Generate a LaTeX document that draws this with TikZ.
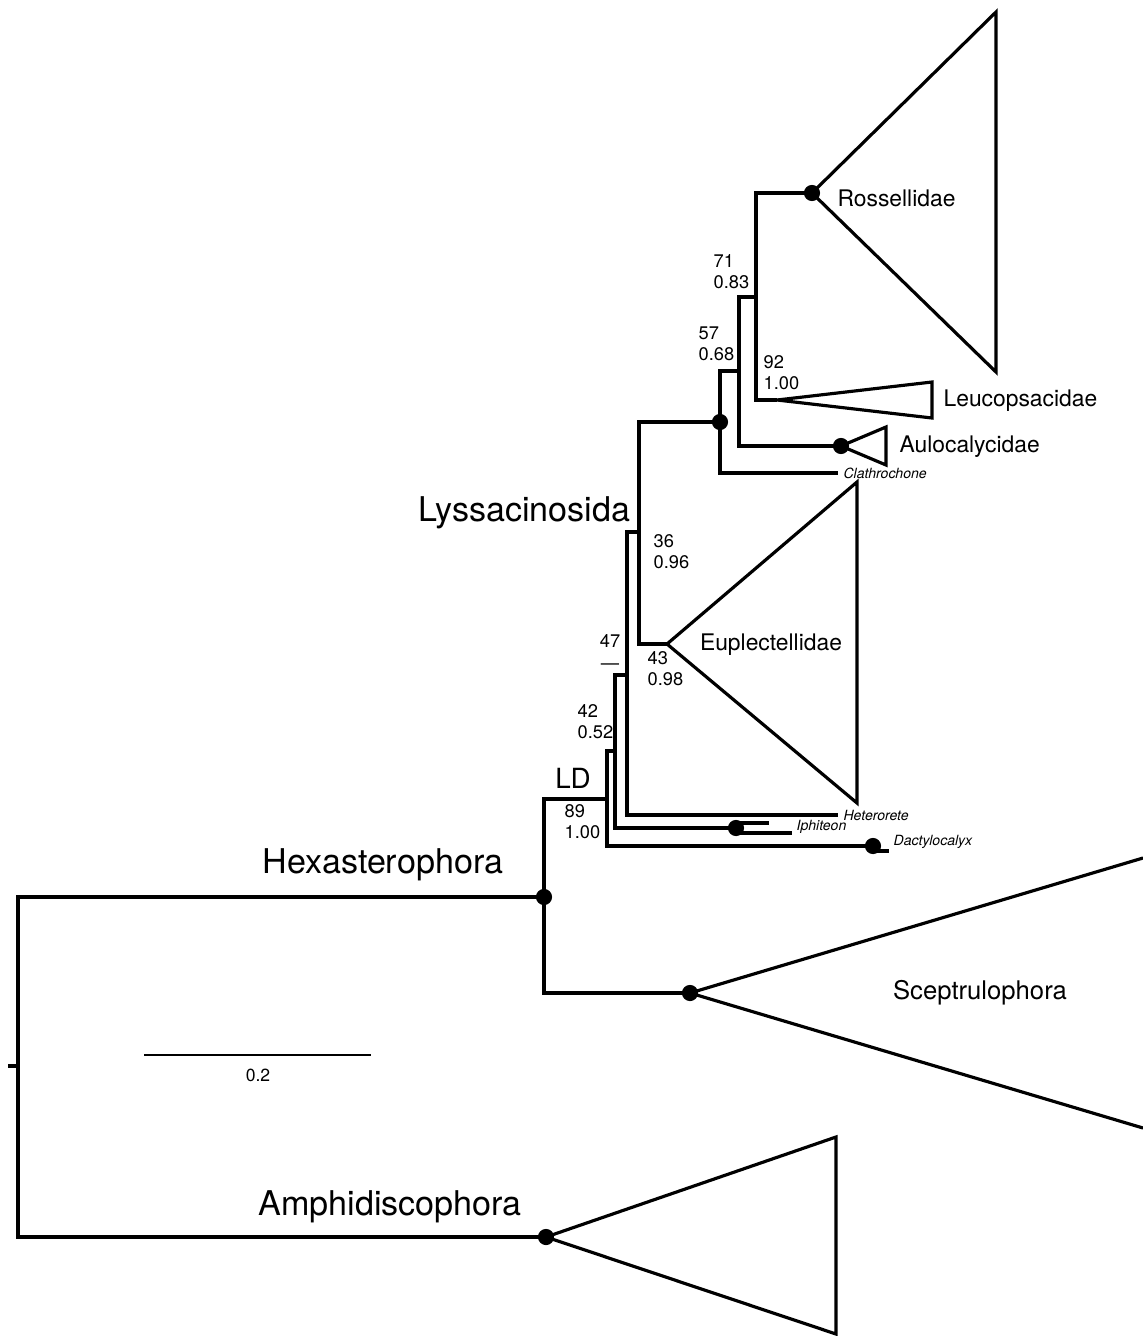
\documentclass[tikz,border=0pt]{standalone}
\usepackage{fontspec}
\setmainfont{TeX Gyre Heros}
\begin{document}
\begin{tikzpicture}[x=0.01cm,y=-0.01cm,line width=0.9pt]
		\tikzstyle{dot}=[circle,fill=black,inner sep=0pt,minimum size=4.6pt]
		\tikzstyle{clade}=[font=\fontsize{6.5}{7.5}\selectfont,inner sep=0pt]
		\tikzstyle{group}=[font=\fontsize{9.7}{11}\selectfont,inner sep=0pt]
		\tikzstyle{taxon}=[font=\fontsize{4}{5}\selectfont\itshape,anchor=west,inner sep=0pt]
		\tikzstyle{support}=[font=\fontsize{5.2}{6}\selectfont,align=left,anchor=west,inner sep=0pt]
		\useasboundingbox (0,0) rectangle (1143,1336);
		% internal nodes
		\coordinate (g_root) at (18,1066);
		\coordinate (g_stem) at (8,1066);
		\node[dot] (g_hexa) at (544,897) {};
		\node[dot] (g_amph) at (546,1237) {};
		\node[dot] (g_scep) at (690,993) {};
		\coordinate (g_ld) at (607,799);
		\coordinate (g_42) at (615,751);
		\coordinate (g_47) at (627,675);
		\coordinate (g_36) at (639,532);
		\node[dot] (g_57) at (720,422) {};
		\coordinate (g_71) at (739,371);
		\coordinate (g_92) at (756,297);
		% tips
		\node[dot] (g_ross) at (812,193) {};
		\coordinate (g_leuc) at (777,400);
		\node[dot] (g_aulo) at (841,446) {};
		\coordinate (g_clat) at (838,473);
		\coordinate (g_eupl) at (667,644);
		\coordinate (g_hete) at (838,815);
		\node[dot] (g_iphi) at (736,828) {};
		\node[dot] (g_dact) at (873,846) {};
		% branches
		\draw (g_stem) -- (g_root);
		\draw (g_hexa.center) -| (g_root) |- (g_amph.center);
		\draw (g_ld) -| (g_hexa.center) |- (g_scep.center);
		\draw (g_42) -| (g_ld) |- (g_dact.center);
		\draw (g_47) -| (g_42) |- (g_iphi.center);
		\draw (g_36) -| (g_47) |- (g_hete);
		\draw (g_57.center) -| (g_36) |- (g_eupl);
		\draw (g_71) -| (g_57.center) |- (g_clat);
		\draw (g_92) -| (g_71) |- (g_aulo.center);
		\draw (g_ross.center) -| (g_92) |- (g_leuc);
		\draw (g_iphi.center) ++(0,-5) -- ++(33,0) (g_iphi.center) ++(0,5) -- ++(56,0);
		\draw (g_dact.center) ++(0,5) -- ++(16,0);
		% collapsed clades
		\draw (g_ross.center) -- (996,12) -- (996,372) -- cycle;
		\draw (g_leuc) -- (932,382) -- (932,418) -- cycle;
		\draw (g_aulo.center) -- (886,427) -- (886,465) -- cycle;
		\draw (g_eupl) -- (857,482) -- (857,803) -- cycle;
		\draw (1143,858) -- (g_scep.center) -- (1143,1128);
		\draw (g_amph.center) -- (836,1137) -- (836,1334) -- cycle;
		% labels
		\node[clade,anchor=west] (l_ross) at (836,198) {Rossellidae};
		\node[clade,anchor=west] (l_leuc) at (942,401) {Leucopsacidae};
		\node[clade,anchor=west] (l_aulo) at (898,447) {Aulocalycidae};
		\node[clade] (l_eupl) at (771,645) {Euplectellidae};
		\node[taxon] (l_clat) at (842,473) {Clathrochone};
		\node[taxon] (l_hete) at (842,815) {Heterorete};
		\node[taxon] (l_iphi) at (795,827) {Iphiteon};
		\node[taxon] (l_dact) at (892,842) {Dactylocalyx};
		\node[group,anchor=east] (l_lyss) at (632,513) {Lyssacinosida};
		\node[font=\fontsize{7.9}{9}\selectfont,inner sep=0pt] (l_ld) at (573,778) {LD};
		\node[group] (l_hexa) at (383,865) {Hexasterophora};
		\node[clade,font=\fontsize{7.3}{8.5}\selectfont] (l_scep) at (980,993) {Sceptrulophora};
		\node[group] (l_amph) at (390,1207) {Amphidiscophora};
		% support values
		\node[support] (s_71) at (712,272) {71\\0.83};
		\node[support] (s_57) at (697,344) {57\\0.68};
		\node[support] (s_92) at (762,373) {92\\1.00};
		\node[support] (s_36) at (652,552) {36\\0.96};
		\node[support] (s_43) at (646,669) {43\\0.98};
		\node[support,align=center,anchor=center] (s_47) at (610,652) {47\\—};
		\node[support] (s_42) at (576,722) {42\\0.52};
		\node[support] (s_89) at (563,822) {89\\1.00};
		% scale bar
		\coordinate (b_1) at (144,1055);
		\coordinate (b_2) at (371,1055);
		\draw[line width=0.5pt] (b_1) -- (b_2);
		\node[font=\fontsize{5}{6}\selectfont,inner sep=0pt] (b_lab) at (258,1075) {0.2};
	\end{tikzpicture}
\end{document}
